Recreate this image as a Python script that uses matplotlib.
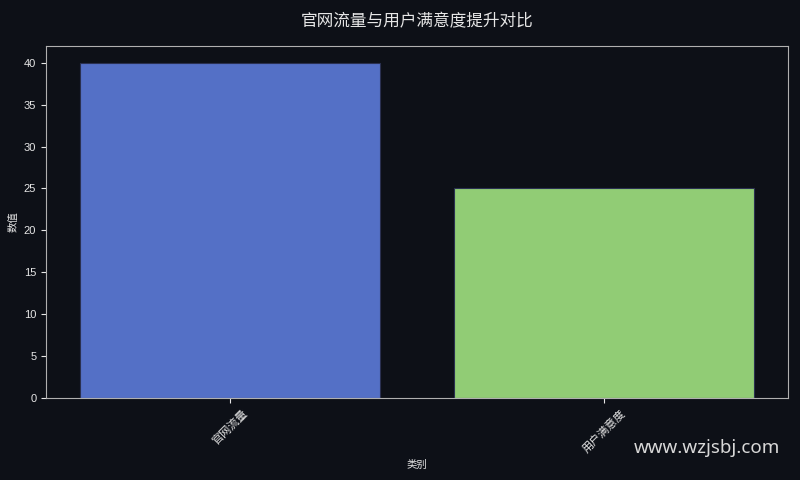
import matplotlib
matplotlib.use("Agg")
import matplotlib.pyplot as plt

plt.rcParams['font.family'] = ['Liberation Sans', 'Noto Sans CJK SC', 'DejaVu Sans']

categories = ["官网流量", "用户满意度"]
values = [40, 25]
colors = ["#5470c6", "#91cc75"]

bg = "#0d1017"
fg = "#e6e6e6"
cjk = ['Noto Sans CJK SC', 'DejaVu Sans']

fig, ax = plt.subplots(figsize=(8, 4.8), dpi=100)
fig.patch.set_facecolor(bg)
ax.set_facecolor(bg)

ax.bar(categories, values, color=colors, width=0.8, edgecolor="#2a3050", linewidth=0.8)

ax.set_title("官网流量与用户满意度提升对比", color=fg, fontsize=12, pad=14, family=cjk)
ax.set_xlabel("类别", color=fg, fontsize=7.5, family=cjk)
ax.set_ylabel("数值", color=fg, fontsize=7.5, family=cjk)
ax.tick_params(colors=fg, labelsize=8)
plt.setp(ax.get_xticklabels(), rotation=45, family=cjk, fontsize=8)
for s in ax.spines.values():
    s.set_color("#b0b0b0")

fig.subplots_adjust(left=0.0575, right=0.985, top=0.904, bottom=0.171)

fig.text(0.884, 0.066, "www.wzjsbj.com", color="#d8d8d8", fontsize=13.5,
         ha="center", va="center", family=['Noto Sans', 'DejaVu Sans'])

fig.savefig("out.png", dpi=100, facecolor=bg)
